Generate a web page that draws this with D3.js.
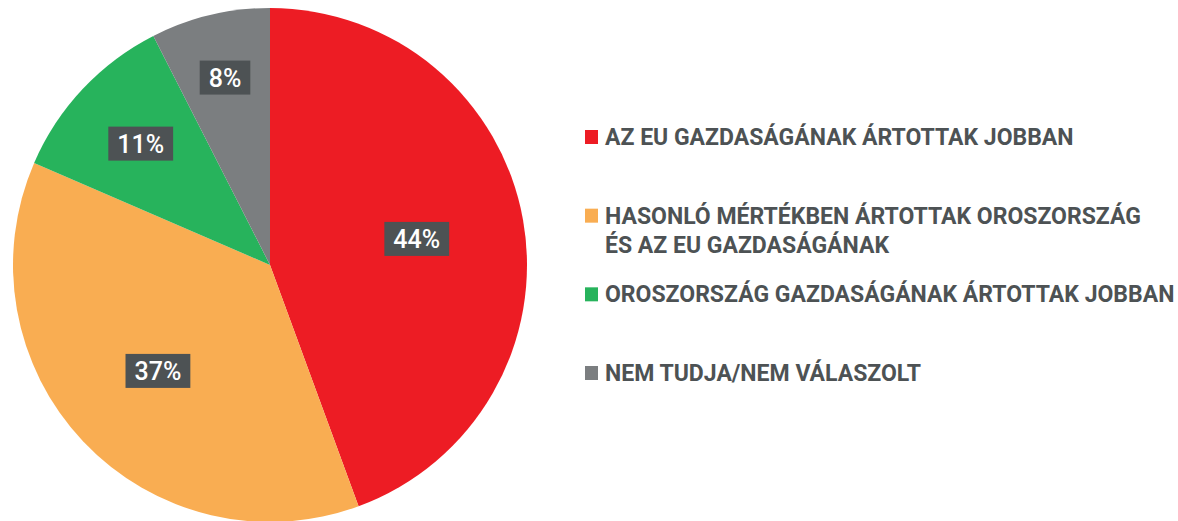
<!DOCTYPE html>
<html>
<head>
<meta charset="utf-8">
<script src="https://cdn.jsdelivr.net/npm/d3@7"></script>
<style>
  body { margin: 0; background: #fff; }
  text { font-family: Roboto, "Noto Sans", sans-serif; font-weight: 700; }
</style>
</head>
<body>
<div id="chart"></div>
<script>
var categories = [
  ['AZ EU GAZDASÁGÁNAK ÁRTOTTAK JOBBAN'],
  ['HASONLÓ MÉRTÉKBEN ÁRTOTTAK OROSZORSZÁG', 'ÉS AZ EU GAZDASÁGÁNAK'],
  ['OROSZORSZÁG GAZDASÁGÁNAK ÁRTOTTAK JOBBAN'],
  ['NEM TUDJA/NEM VÁLASZOLT']
];
var values = [44.4, 37.1, 11.0, 7.5];
var colors = ['#ed1c24', '#f9ad52', '#27b35c', '#7b7e80'];

var width = 1178, height = 521,
    cx = 270, cy = 265, radius = 257;

var svg = d3.select('#chart')
    .append('svg')
    .attr('width', width)
    .attr('height', height);

var data = values.map(function(v, i) { return {value: v, name: categories[i], color: colors[i]}; });

var pie = d3.pie()
    .sort(null)
    .value(function(d) { return d.value; });

var arc = d3.arc()
    .innerRadius(0)
    .outerRadius(radius);

var g = svg.append('g')
    .attr('transform', 'translate(' + cx + ',' + cy + ')');

var arcs = pie(data);

g.selectAll('path')
    .data(arcs)
    .enter().append('path')
    .attr('d', arc)
    .attr('fill', function(d) { return d.data.color; });

// smaller slices get their label pushed further out
function labelRadius(d) {
  if (d.value > 40) return radius * 0.58;
  if (d.value > 20) return radius * 0.6;
  if (d.value > 9) return radius * 0.69;
  return radius * 0.75;
}

var labels = g.selectAll('.lbl')
    .data(arcs)
    .enter().append('g')
    .attr('class', 'lbl')
    .attr('transform', function(d) {
      var r = labelRadius(d),
          a = (d.startAngle + d.endAngle) / 2;
      return 'translate(' + (Math.sin(a) * r) + ',' + (-Math.cos(a) * r) + ')';
    });

labels.append('text')
    .attr('text-anchor', 'middle')
    .attr('dy', '0.36em')
    .attr('fill', '#fff')
    .style('font-size', '25px')
    .style('font-weight', '500')
    .text(function(d) { return Math.round(d.value) + '%'; });

labels.each(function() {
  var t = d3.select(this).select('text'),
      b = t.node().getBBox();
  d3.select(this).insert('rect', 'text')
      .attr('x', b.x - 9)
      .attr('y', -17)
      .attr('width', b.width + 18)
      .attr('height', 34)
      .attr('fill', '#4d5254');
});

// legend
var legendY = d3.scalePoint()
    .domain(d3.range(categories.length))
    .range([145, 381]);

var legend = svg.append('g')
    .selectAll('g')
    .data(data)
    .enter().append('g')
    .attr('transform', function(d, i) { return 'translate(585,' + legendY(i) + ')'; });

legend.append('rect')
    .attr('x', 0)
    .attr('y', -15)
    .attr('width', 13)
    .attr('height', 14)
    .attr('fill', function(d) { return d.color; });

legend.append('text')
    .attr('x', 20)
    .attr('fill', '#4d5254')
    .style('font-size', '23px')
    .selectAll('tspan')
    .data(function(d) { return d.name; })
    .enter().append('tspan')
    .attr('x', 20)
    .attr('y', function(d, i) { return i * 29; })
    .text(function(d) { return d; });
</script>
</body>
</html>
